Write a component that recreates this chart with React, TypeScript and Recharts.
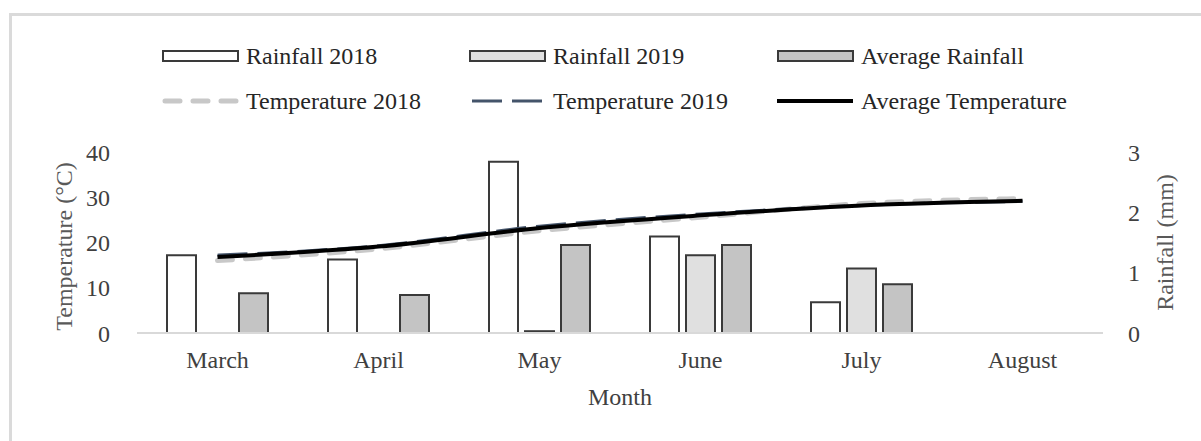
import React from 'react';
import { ComposedChart, Bar, Line, XAxis, YAxis, Label } from 'recharts';

const months = ['March', 'April', 'May', 'June', 'July', 'August'];
const rainfall2018 = [1.29, 1.22, 2.84, 1.6, 0.51, null];
const rainfall2019 = [null, null, 0.03, 1.29, 1.07, null];
const rainfallAvg = [0.66, 0.63, 1.46, 1.46, 0.81, null];
const temp2018 = [16.0, 18.6, 22.6, 25.6, 28.6, 29.7];
const temp2019 = [17.2, 19.3, 23.6, 26.3, 28.2, 29.1];
const tempAvg = [16.8, 19.1, 23.2, 26.0, 28.2, 29.2];
const tempTicks = [0, 10, 20, 30, 40];
const rainTicks = [0, 1, 2, 3];

const FONT = '"Liberation Serif", "Times New Roman", serif';
const BAR_STROKE = '#3a3a3a';

const chartData = months.map((m, i) => ({
  month: m,
  r2018: rainfall2018[i],
  r2019: rainfall2019[i],
  rAvg: rainfallAvg[i],
  t2018: temp2018[i],
  t2019: temp2019[i],
  tAvg: tempAvg[i],
}));

const legendRows = [
  [
    { label: 'Rainfall 2018', kind: 'bar', fill: '#ffffff' },
    { label: 'Rainfall 2019', kind: 'bar', fill: '#e0e0e0' },
    { label: 'Average Rainfall', kind: 'bar', fill: '#c4c4c4' },
  ],
  [
    { label: 'Temperature 2018', kind: 'line', stroke: '#c8c8c8', width: 5, dash: '15 13' },
    { label: 'Temperature 2019', kind: 'line', stroke: '#44546a', width: 3, dash: '30 10' },
    { label: 'Average Temperature', kind: 'line', stroke: '#000000', width: 4, dash: undefined },
  ],
];

const legendCols = [162, 469, 777];
const legendRowY = [56, 101];

const ChartLegend = () => (
  <svg width={1201} height={130} style={{ position: 'absolute', left: 0, top: 0 }}>
    {legendRows.map((row, ri) =>
      row.map((item: any, ci) => {
        const x = legendCols[ci];
        const y = legendRowY[ri];
        return (
          <g key={`${ri}-${ci}`}>
            {item.kind === 'bar' ? (
              <rect x={x + 1} y={y - 5} width={75} height={10} fill={item.fill} stroke={BAR_STROKE} strokeWidth={2} />
            ) : (
              <line
                x1={x + (item.dash ? 3 : 0)}
                x2={x + 76}
                y1={y}
                y2={y}
                stroke={item.stroke}
                strokeWidth={item.width}
                strokeDasharray={item.dash}
                strokeLinecap={item.dash && item.width > 4 ? 'round' : 'butt'}
              />
            )}
            <text x={x + 84} y={y + 8} fontFamily={FONT} fontSize={24} fill="#262626">
              {item.label}
            </text>
          </g>
        );
      })
    )}
  </svg>
);

const tickStyle = { fontFamily: FONT, fontSize: 24, fill: '#404040' };

const App = () => {
  return (
    <div style={{ position: 'absolute', left: 0, top: 0, width: 1201, height: 441, background: '#ffffff' }}>
      <div
        style={{
          position: 'absolute',
          left: 9,
          top: 13,
          width: 1192,
          height: 428,
          borderLeft: '3px solid #dadada',
          borderTop: '3px solid #dadada',
          boxSizing: 'border-box',
        }}
      />
      <ChartLegend />
      <div style={{ position: 'absolute', left: 0, top: 0 }}>
        <ComposedChart
          width={1201}
          height={441}
          data={chartData}
          margin={{ top: 152, right: 18, bottom: 28, left: 57 }}
          barSize={29}
          barGap={7}
        >
          <XAxis
            dataKey="month"
            height={80}
            tickLine={false}
            tickSize={6}
            tickMargin={12}
            axisLine={{ stroke: '#d9d9d9', strokeWidth: 2 }}
            tick={tickStyle}
            interval={0}
          >
            <Label
              content={(props: any) => {
                const vb = props.viewBox || { x: 137, y: 333, width: 966 };
                return (
                  <text x={vb.x + vb.width / 2} y={vb.y + 72} textAnchor="middle" fontFamily={FONT} fontSize={24} fill="#404040">
                    Month
                  </text>
                );
              }}
            />
          </XAxis>
          <YAxis
            yAxisId="left"
            orientation="left"
            width={80}
            domain={[0, 40]}
            ticks={tempTicks}
            axisLine={false}
            tickLine={false}
            tickSize={6}
            tickMargin={21}
            tick={tickStyle}
          >
            <Label
              content={(props: any) => {
                const vb = props.viewBox || { x: 57, y: 152, height: 181 };
                const cx = vb.x + 7;
                const cy = vb.y + vb.height / 2 + 4;
                return (
                  <text
                    x={cx}
                    y={cy}
                    transform={`rotate(-90, ${cx}, ${cy})`}
                    textAnchor="middle"
                    dominantBaseline="central"
                    fontFamily={FONT}
                    fontSize={24}
                    fill="#595959"
                  >
                    Temperature (°C)
                  </text>
                );
              }}
            />
          </YAxis>
          <YAxis
            yAxisId="right"
            orientation="right"
            width={80}
            domain={[0, 3]}
            ticks={rainTicks}
            axisLine={false}
            tickLine={false}
            tickSize={6}
            tickMargin={19}
            tick={tickStyle}
          >
            <Label
              content={(props: any) => {
                const vb = props.viewBox || { x: 1103, y: 152, height: 181 };
                const cx = vb.x + 62;
                const cy = vb.y + vb.height / 2;
                return (
                  <text
                    x={cx}
                    y={cy}
                    transform={`rotate(-90, ${cx}, ${cy})`}
                    textAnchor="middle"
                    dominantBaseline="central"
                    fontFamily={FONT}
                    fontSize={24}
                    fill="#595959"
                  >
                    Rainfall (mm)
                  </text>
                );
              }}
            />
          </YAxis>
          <Bar yAxisId="right" dataKey="r2018" name="Rainfall 2018" fill="#ffffff" stroke={BAR_STROKE} strokeWidth={2} isAnimationActive={false} />
          <Bar yAxisId="right" dataKey="r2019" name="Rainfall 2019" fill="#e0e0e0" stroke={BAR_STROKE} strokeWidth={2} isAnimationActive={false} />
          <Bar yAxisId="right" dataKey="rAvg" name="Average Rainfall" fill="#c4c4c4" stroke={BAR_STROKE} strokeWidth={2} isAnimationActive={false} />
          <Line
            yAxisId="left"
            type="monotone"
            dataKey="t2018"
            name="Temperature 2018"
            stroke="#c8c8c8"
            strokeWidth={5}
            strokeDasharray="15 13"
            strokeLinecap="round"
            dot={false}
            activeDot={false}
            isAnimationActive={false}
          />
          <Line
            yAxisId="left"
            type="monotone"
            dataKey="t2019"
            name="Temperature 2019"
            stroke="#44546a"
            strokeWidth={3}
            strokeDasharray="30 10"
            dot={false}
            activeDot={false}
            isAnimationActive={false}
          />
          <Line
            yAxisId="left"
            type="monotone"
            dataKey="tAvg"
            name="Average Temperature"
            stroke="#000000"
            strokeWidth={4}
            dot={false}
            activeDot={false}
            isAnimationActive={false}
          />
        </ComposedChart>
      </div>
    </div>
  );
};

export default App;
